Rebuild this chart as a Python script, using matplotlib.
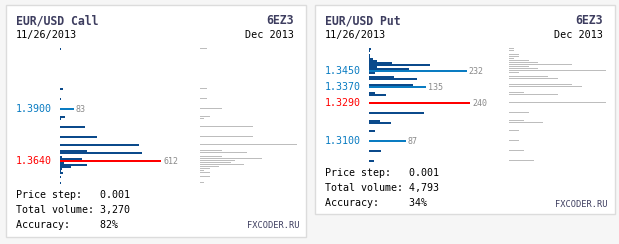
import matplotlib
matplotlib.use('Agg')
import matplotlib.pyplot as plt
from matplotlib.patches import Rectangle

W, H = 619, 244
PRICE_STEP = 0.001

# ---- Left card: EUR/USD Call ----
call_prices = [1.4200, 1.4000, 1.3950, 1.3900, 1.3860, 1.3850, 1.3810, 1.3760,
               1.3720, 1.3690, 1.3680, 1.3660, 1.3650, 1.3640, 1.3630, 1.3620,
               1.3610, 1.3600, 1.3590, 1.3580, 1.3560, 1.3530]
call_volume = [6, 18, 6, 83, 30, 6, 152, 224, 479, 164, 497, 12, 133, 612, 24,
               164, 67, 12, 6, 18, 6, 6]
call_prev = [7, 7, 7, 22, 10, 4, 53, 53, 97, 22, 47, 22, 62, 35, 31, 44, 19, 10,
             4, 10, 10, 4]
call_marked = [1.3900]
call_info = {"title": "EUR/USD Call", "code": "6EZ3", "date": "11/26/2013",
             "month": "Dec 2013", "step": "0.001", "total": "3,270", "acc": "82%"}

# ---- Right card: EUR/USD Put ----
put_prices = [1.3560, 1.3550, 1.3530, 1.3520, 1.3510, 1.3500, 1.3490, 1.3480,
              1.3470, 1.3460, 1.3450, 1.3440, 1.3420, 1.3410, 1.3380, 1.3370,
              1.3340, 1.3330, 1.3290, 1.3240, 1.3200, 1.3190, 1.3150, 1.3100,
              1.3050, 1.3000]
put_volume = [5, 2, 2, 2, 10, 19, 55, 145, 19, 95, 232, 14, 59, 114, 105, 135,
              14, 40, 240, 131, 26, 52, 14, 87, 29, 12]
put_prev = [5, 5, 10, 10, 5, 20, 29, 63, 20, 29, 97, 10, 39, 49, 63, 73, 15, 49,
            97, 20, 15, 34, 10, 10, 15, 25]
put_marked = [1.3450, 1.3370, 1.3100]
put_info = {"title": "EUR/USD Put", "code": "6EZ3", "date": "11/26/2013",
            "month": "Dec 2013", "step": "0.001", "total": "4,793", "acc": "34%"}

DARK = '#0b4a8b'
LIGHT = '#0a7cc2'
RED = '#ff0000'
GREY = '#bdbdbd'
NAVY = '#3d3d5f'
MONO = 'DejaVu Sans Mono'

fig = plt.figure(figsize=(W / 100, H / 100), dpi=100, facecolor='#f6f6f6')


def fx(x):
    return x / W


def fy(y):
    return 1 - y / H


def ftext(x, y, s, **kw):
    kw.setdefault('family', MONO)
    fig.text(fx(x), fy(y), s, va='baseline', **kw)


def panel(prices, volume, prev, marked, info, card, layout):
    cx0, cy0, cx1, cy1 = card
    fig.add_artist(Rectangle((fx(cx0), fy(cy1)), fx(cx1 - cx0), (cy1 - cy0) / H,
                             transform=fig.transFigure, fc='white',
                             ec='#dcdcdc', lw=1.0, zorder=-5))
    tx = cx0 + 10
    rx = cx1 - 12
    ftext(tx, 24.3, info["title"], fontsize=8.3, weight='bold', color=NAVY)
    ftext(rx, 24.3, info["code"], fontsize=8.3, weight='bold', color=NAVY, ha='right')
    ftext(tx, 37.7, info["date"], fontsize=7.3, color='black')
    ftext(rx, 37.7, info["month"], fontsize=7.3, color='black', ha='right')

    by = layout["bottom"]
    ftext(tx, by, "Price step:   " + info["step"], fontsize=7.2, color='black')
    ftext(tx, by + 15, "Total volume: " + info["total"], fontsize=7.2, color='black')
    ftext(tx, by + 30, "Accuracy:     " + info["acc"], fontsize=7.2, color='black')
    ftext(cx1 - 7, by + 30.5, "FXCODER.RU", fontsize=6.2, color=NAVY, ha='right')

    # price axis mapping: 2 px per price step
    pmax = prices[volume.index(max(volume))]
    yc_ref = layout["ref_row"] + 0.8
    y_top, y_bot = 40, layout["axes_bottom"]
    p_top = pmax + (yc_ref - y_top) / 2 * PRICE_STEP
    p_bot = pmax - (y_bot - yc_ref) / 2 * PRICE_STEP

    bx0 = cx0 + 54
    bw = 135
    ax = fig.add_axes([fx(bx0), fy(y_bot), fx(bw), (y_bot - y_top) / H])
    ax.set_ylim(p_bot, p_top)
    ax.set_xlim(0, max(volume) * bw / 101)
    ax.axis('off')
    ax.patch.set_visible(False)

    gx0 = cx0 + 194
    gax = fig.add_axes([fx(gx0), fy(y_bot), fx(100), (y_bot - y_top) / H])
    gax.set_ylim(p_bot, p_top)
    gax.set_xlim(0, 100)
    gax.axis('off')
    gax.patch.set_visible(False)
    gax.barh([p + 0.15 * PRICE_STEP for p in prices], prev,
             height=0.5 * PRICE_STEP, color=GREY, lw=0, antialiased=False)

    colors = []
    for p, v in zip(prices, volume):
        if p == pmax:
            colors.append(RED)
        elif p in marked:
            colors.append(LIGHT)
        else:
            colors.append(DARK)
    ax.barh(prices, volume, height=0.8 * PRICE_STEP, color=colors, lw=0)

    for p, v, c in zip(prices, volume, colors):
        if c == DARK:
            continue
        ax.annotate(str(v), (v, p), xytext=(2, -3), textcoords='offset pixels',
                    va='baseline', ha='left', fontsize=6, color='#8a8a8a',
                    family=MONO, annotation_clip=False)
        ax.annotate(f"{p:.4f}", (0, p), xycoords=('axes fraction', 'data'),
                    xytext=(tx - bx0, -3.5), textcoords='offset pixels',
                    va='baseline', ha='left', fontsize=7.2, color=c,
                    family=MONO, annotation_clip=False)


panel(call_prices, call_volume, call_prev, call_marked, call_info,
      (6, 5, 306, 237), {"ref_row": 160, "axes_bottom": 192, "bottom": 197.7})
panel(put_prices, put_volume, put_prev, put_marked, put_info,
      (315, 5, 615, 214), {"ref_row": 102, "axes_bottom": 170, "bottom": 176.3})

fig.savefig('out.png', dpi=100, facecolor=fig.get_facecolor())
